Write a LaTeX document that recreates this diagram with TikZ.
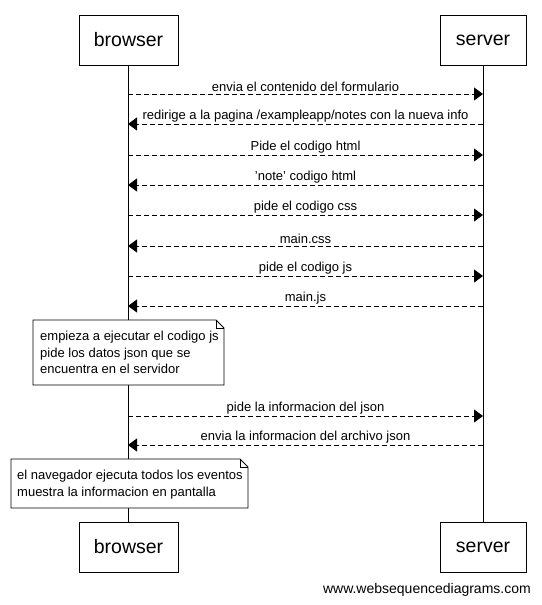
\documentclass[tikz,border=0pt]{standalone}
\usepackage{fontspec}
\setmainfont{Liberation Sans}
\usetikzlibrary{arrows.meta}
\begin{document}
\begin{tikzpicture}[x=1pt,y=-1pt,
  actor/.style={draw,line width=0.8pt,minimum height=50pt,inner sep=0pt,font=\fontsize{19.5}{22}\selectfont},
  lifeline/.style={line width=0.8pt},
  msg/.style={line width=0.8pt,dash pattern=on 5pt off 3pt,-{Triangle[length=9pt,width=13pt]}},
  lbl/.style={font=\fontsize{13}{15}\selectfont,inner sep=0pt,above=1.5pt,midway},
  notetext/.style={font=\fontsize{13}{16.5}\selectfont,align=left,anchor=north west,inner sep=0pt},
  notebox/.style={line width=0.8pt,fill=white}
]
\useasboundingbox (0,0) rectangle (541,605);
\fill[white] (0,0) rectangle (541,605);

% actors
\node[actor,minimum width=99pt] (bt) at (128.5,40) {browser};
\node[actor,minimum width=86pt] (st) at (483,40) {server};
\node[actor,minimum width=99pt] (bb) at (128.5,547) {browser};
\node[actor,minimum width=86pt] (sb) at (483,547) {server};

% lifelines
\draw[lifeline] (bt.south) -- (bb.north);
\draw[lifeline] (st.south) -- (sb.north);

% message endpoints
\foreach \i/\y in {1/94,2/124,3/155,4/185,5/215,6/246,7/276,8/306,9/416,10/445}{
  \coordinate (b\i) at (128,\y);
  \coordinate (s\i) at (483,\y);
}

\draw[msg] (b1) -- node[lbl]{envia el contenido del formulario} (s1);
\draw[msg] (s2) -- node[lbl]{redirige a la pagina /exampleapp/notes con la nueva info} (b2);
\draw[msg] (b3) -- node[lbl]{Pide el codigo html} (s3);
\draw[msg] (s4) -- node[lbl]{'note' codigo html} (b4);
\draw[msg] (b5) -- node[lbl]{pide el codigo css} (s5);
\draw[msg] (s6) -- node[lbl]{main.css} (b6);
\draw[msg] (b7) -- node[lbl]{pide el codigo js} (s7);
\draw[msg] (s8) -- node[lbl]{main.js} (b8);
\draw[msg] (b9) -- node[lbl]{pide la informacion del json} (s9);
\draw[msg] (s10) -- node[lbl]{envia la informacion del archivo json} (b10);

% note 1
\draw[notebox] (33,320) -- (216,320) -- (224,328) -- (224,385) -- (33,385) -- cycle;
\draw[line width=0.8pt] (216,320) -- (216,328) -- (224,328);
\node[notetext] (n1) at (40,331) {empieza a ejecutar el codigo js\\pide los datos json que se\\encuentra en el servidor};

% note 2
\draw[notebox] (11,459) -- (240,459) -- (248,467) -- (248,508) -- (11,508) -- cycle;
\draw[line width=0.8pt] (240,459) -- (240,467) -- (248,467);
\node[notetext] (n2) at (17,470) {el navegador ejecuta todos los eventos\\muestra la informacion en pantalla};

% watermark
\node[font=\fontsize{14}{16}\selectfont,inner sep=0pt,anchor=east] (wm) at (531,590) {www.websequencediagrams.com};
\end{tikzpicture}
\end{document}
